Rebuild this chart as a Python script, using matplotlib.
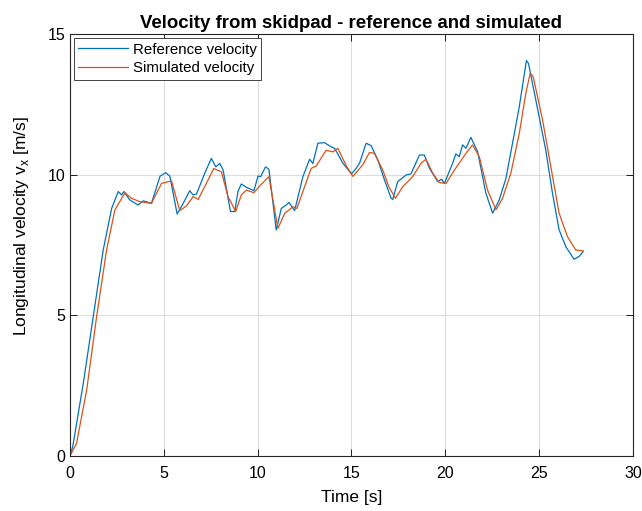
import numpy as np
import matplotlib.pyplot as plt

plt.rcParams['font.family'] = ['Liberation Sans', 'DejaVu Sans']

# reference velocity
t_ref = [0.0, 0.15, 0.71, 1.24, 1.77, 2.22, 2.57, 2.75, 2.87, 3.19, 3.63, 3.9, 4.34,
         4.8, 5.1, 5.32, 5.71, 6.03, 6.38, 6.56, 6.74, 7.18, 7.53, 7.77, 7.98, 8.16,
         8.55, 8.78, 8.95, 9.13, 9.4, 9.8, 10.02, 10.16, 10.42, 10.6, 10.99, 11.26,
         11.52, 11.67, 11.97, 12.41, 12.77, 12.94, 13.21, 13.56, 13.92, 14.1, 14.54,
         15.0, 15.25, 15.43, 15.78, 16.05, 16.4, 16.76, 17.11, 17.2, 17.46, 17.91,
         18.17, 18.62, 18.88, 19.15, 19.6, 19.8, 19.95, 20.39, 20.56, 20.74, 20.92,
         21.1, 21.36, 21.72, 22.16, 22.52, 22.87, 23.23, 23.58, 23.94, 24.32, 24.43,
         24.82, 25.35, 25.71, 26.06, 26.42, 26.86, 27.13, 27.34]
v_ref = [0.0, 0.35, 2.59, 4.96, 7.33, 8.81, 9.41, 9.29, 9.41, 9.11, 8.93, 9.08, 8.99,
         9.96, 10.08, 9.96, 8.61, 8.99, 9.44, 9.29, 9.32, 10.06, 10.59, 10.29, 10.41, 10.18,
         8.7, 8.7, 9.41, 9.68, 9.56, 9.44, 9.96, 9.94, 10.29, 10.2, 8.04, 8.81,
         8.93, 9.02, 8.73, 9.94, 10.56, 10.41, 11.13, 11.15, 11.0, 10.95, 10.42,
         10.04, 10.24, 10.42, 11.13, 11.04, 10.54, 9.82, 9.17, 9.13, 9.76, 10.0,
         10.04, 10.71, 10.71, 10.24, 9.76, 9.85, 9.7, 10.42, 10.75, 10.65, 11.07,
         10.95, 11.34, 10.83, 9.35, 8.64, 9.11, 9.88, 11.13, 12.43, 14.07, 13.97,
         12.67, 10.89, 9.35, 8.05, 7.45, 7.0, 7.1, 7.27]

# simulated velocity
t_sim = [0.0, 0.35, 0.89, 1.42, 1.95, 2.39, 2.93, 3.28, 3.72, 4.34, 4.88, 5.41, 5.85,
         6.21, 6.56, 6.83, 7.27, 7.66, 8.07, 8.42, 8.83, 9.13, 9.4, 9.8, 10.11, 10.6,
         11.08, 11.44, 11.88, 12.09, 12.5, 12.85, 13.12, 13.65, 14.01, 14.27, 14.72,
         15.07, 15.6, 15.96, 16.22, 16.67, 16.99, 17.34, 17.73, 18.26, 18.71, 18.97,
         19.33, 19.68, 20.04, 20.48, 20.74, 21.1, 21.45, 21.81, 22.25, 22.7, 23.05,
         23.49, 23.94, 24.29, 24.52, 24.68, 25.18, 25.62, 26.06, 26.51, 26.95, 27.34]
v_sim = [0.0, 0.45, 2.35, 4.96, 7.33, 8.75, 9.37, 9.17, 9.05, 8.99, 9.7, 9.79, 8.73,
         8.9, 9.23, 9.13, 9.7, 10.23, 10.11, 9.23, 8.7, 9.29, 9.46, 9.37, 9.61, 9.94,
         8.1, 8.63, 8.87, 8.81, 9.58, 10.23, 10.32, 10.88, 10.82, 10.95, 10.33,
         9.95, 10.36, 10.8, 10.77, 10.17, 9.58, 9.17, 9.58, 9.94, 10.42, 10.56,
         10.06, 9.73, 9.7, 10.17, 10.42, 10.77, 11.07, 10.65, 9.46, 8.76, 9.17,
         10.06, 11.48, 12.91, 13.62, 13.5, 11.96, 10.3, 8.64, 7.8, 7.33, 7.3]

fig = plt.figure(figsize=(6.42, 5.11), dpi=100)
ax = fig.add_axes([0.109, 0.1076, 0.877, 0.825])

ax.plot(t_ref, v_ref, color='#0072BD', lw=0.9, label='Reference velocity')
ax.plot(t_sim, v_sim, color='#D95319', lw=0.9, label='Simulated velocity')

ax.set_xlim(0, 30)
ax.set_ylim(0, 15)
ax.set_xticks(np.arange(0, 31, 5))
ax.set_yticks(np.arange(0, 16, 5))
ax.grid(True, color='#dddddd', lw=0.8)
ax.tick_params(direction='in', top=True, right=True, labelsize=11.5, length=5, width=0.6)
ax.tick_params(axis='x', pad=7)
for s in ax.spines.values():
    s.set_linewidth(0.8)
    s.set_color('#262626')

ax.set_title('Velocity from skidpad - reference and simulated', fontsize=13.4,
             fontweight='bold', pad=4.8)
ax.set_xlabel('Time [s]', fontsize=12.5, labelpad=7)
ax.set_ylabel('Longitudinal velocity v$_\\mathregular{x}$ [m/s]', fontsize=12.5)
ax.yaxis.set_label_coords(-0.07, 0.546)

leg = ax.legend(loc='upper left', fontsize=10.8, fancybox=False, framealpha=1,
                edgecolor='#262626', borderaxespad=0.25, handlelength=3.3,
                handletextpad=0.35, borderpad=0.3, labelspacing=0.3)
leg.get_frame().set_linewidth(0.6)

fig.savefig('out.png', dpi=100)
